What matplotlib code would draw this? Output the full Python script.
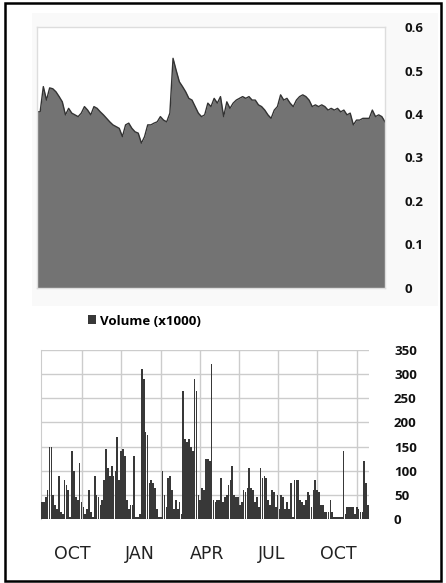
import numpy as np
import matplotlib
matplotlib.use('Agg')
import matplotlib.pyplot as plt
from matplotlib.patches import Rectangle

# ------ data
price = [0.405, 0.405, 0.463, 0.432, 0.46, 0.458, 0.451, 0.44, 0.428, 0.398,
         0.413, 0.402, 0.398, 0.394, 0.402, 0.417, 0.409, 0.398, 0.417, 0.413,
         0.405, 0.398, 0.39, 0.382, 0.375, 0.371, 0.367, 0.348, 0.375, 0.379,
         0.367, 0.359, 0.356, 0.333, 0.348, 0.375, 0.375, 0.379, 0.382, 0.394,
         0.386, 0.382, 0.402, 0.528, 0.5, 0.474, 0.463, 0.451, 0.436, 0.432,
         0.417, 0.402, 0.394, 0.398, 0.425, 0.417, 0.436, 0.425, 0.44, 0.394,
         0.428, 0.413, 0.425, 0.432, 0.436, 0.44, 0.436, 0.44, 0.432, 0.432,
         0.421, 0.417, 0.409, 0.398, 0.39, 0.409, 0.417, 0.444, 0.432, 0.436,
         0.425, 0.417, 0.432, 0.44, 0.444, 0.44, 0.432, 0.417, 0.421, 0.417,
         0.421, 0.417, 0.409, 0.413, 0.409, 0.413, 0.405, 0.409, 0.398, 0.402,
         0.375, 0.386, 0.386, 0.39, 0.39, 0.39, 0.409, 0.394, 0.398, 0.394,
         0.382]

volume = [35, 35, 45, 60, 150, 150, 50, 30, 20, 90,
          15, 10, 80, 70, 60, 5, 140, 100, 45, 40,
          115, 35, 25, 10, 20, 60, 15, 5, 90, 50,
          45, 30, 40, 80, 145, 105, 90, 110, 90, 100,
          170, 80, 140, 145, 130, 40, 20, 30, 30, 130,
          5, 5, 10, 310, 290, 180, 175, 75, 80, 75,
          65, 20, 5, 5, 100, 50, 25, 85, 90, 60,
          20, 40, 20, 35, 10, 265, 165, 160, 165, 150,
          140, 290, 265, 50, 40, 65, 60, 125, 125, 120,
          320, 40, 35, 40, 40, 85, 35, 45, 50, 70,
          80, 110, 50, 45, 45, 30, 35, 60, 55, 65,
          105, 65, 60, 35, 45, 25, 105, 85, 90, 85,
          40, 30, 60, 55, 25, 50, 20, 50, 45, 20,
          35, 20, 75, 5, 80, 80, 80, 40, 35, 30,
          40, 55, 50, 25, 60, 80, 60, 55, 30, 30,
          15, 15, 15, 40, 15, 5, 5, 5, 5, 5,
          140, 10, 25, 25, 25, 25, 10, 25, 20, 15,
          15, 120, 75, 30]

month_labels = ['OCT', 'JAN', 'APR', 'JUL', 'OCT']
month_px = [72, 140, 207, 272, 338]          # label centres, pixels
grid_px = [82, 121, 161, 200, 239, 278, 317, 357]

W, H = 446, 583
fig = plt.figure(figsize=(W / 100, H / 100), dpi=100, facecolor='white')

# outer frame and faint panel behind the price chart
fig.patches.append(Rectangle((5 / W, 2 / H), 436 / W, 578 / H, transform=fig.transFigure,
                             fill=False, edgecolor='black', lw=1.8, zorder=5))
fig.patches.append(Rectangle((32 / W, 1 - 306 / H), 406 / W, 293 / H, transform=fig.transFigure,
                             facecolor='#f9f9f9', edgecolor='none', zorder=-5))

BOLD = dict(family=['Open Sans', 'DejaVu Sans'], fontweight='bold', fontsize=9.5, color='#111111')

# ------ price area
ax1 = fig.add_axes([37 / W, 1 - 288 / H, 348 / W, 261 / H], zorder=2)
x1 = np.arange(len(price))
ax1.fill_between(x1, price, color='#737373', lw=0)
ax1.plot(x1, price, color='#333333', lw=1.0)
ax1.set_xlim(0, len(price) - 1)
ax1.set_ylim(0, 0.6)
ax1.set_xticks([])
ax1.yaxis.tick_right()
ax1.set_yticks([0, 0.1, 0.2, 0.3, 0.4, 0.5, 0.6])
ax1.set_yticklabels(['0', '0.1', '0.2', '0.3', '0.4', '0.5', '0.6'], **BOLD)
ax1.tick_params(axis='y', length=0, pad=14)
for lab in ax1.get_yticklabels():
    lab.set_horizontalalignment('left')
for sp in ax1.spines.values():
    sp.set_edgecolor('#dddddd')
    sp.set_linewidth(1)

# ------ volume bars
ax2 = fig.add_axes([41 / W, 1 - 519 / H, 328 / W, 169 / H], zorder=2)
n = len(volume)
x2 = np.arange(n)
bars = ax2.bar(x2, volume, width=0.9, color='#383838', lw=0, zorder=3,
               label='Volume (x1000)')
ax2.set_xlim(-0.5, n - 0.5)
ax2.set_ylim(0, 350)
ax2.yaxis.tick_right()
ax2.set_yticks(np.arange(0, 351, 50))
ax2.set_yticklabels([str(v) for v in range(0, 351, 50)], **BOLD)
ax2.tick_params(axis='y', length=0, pad=18)
for lab in ax2.get_yticklabels():
    lab.set_horizontalalignment('left')


def px_to_idx(p):
    return (p - 41) / 328 * n - 0.5


ax2.set_xticks([px_to_idx(p) for p in grid_px], minor=True)
ax2.set_xticks([px_to_idx(p) for p in month_px])
ax2.set_xticklabels(month_labels)
ax2.tick_params(axis='x', which='both', length=0, pad=19)
for lab in ax2.get_xticklabels():
    lab.set_fontfamily('DejaVu Sans')
    lab.set_fontsize(12.5)
    lab.set_color('#222222')
ax2.grid(True, which='minor', axis='x', color='#cccccc', lw=1, zorder=0)
ax2.grid(True, which='major', axis='y', color='#cccccc', lw=1, zorder=0)
for sp in ax2.spines.values():
    sp.set_visible(False)
ax2.spines['left'].set_visible(True)
ax2.spines['left'].set_color('#cccccc')

fig.legend(handles=[bars], labels=['Volume (x1000)'], loc='center left',
           bbox_to_anchor=(76 / W, 1 - 321 / H), frameon=False,
           handlelength=0.65, handleheight=0.65, handletextpad=0.3,
           prop=dict(family=['Open Sans', 'DejaVu Sans'], weight='bold', size=9.5))

fig.savefig('out.png', dpi=100, facecolor='white')
